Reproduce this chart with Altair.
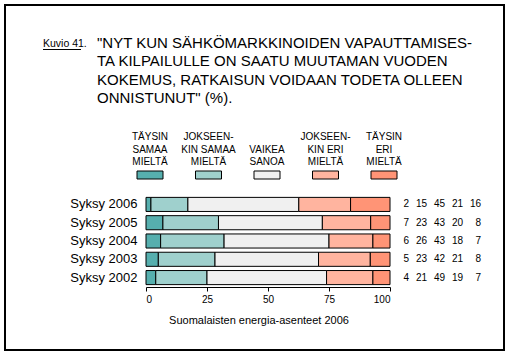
import altair as alt
import pandas as pd

years = ["Syksy 2006", "Syksy 2005", "Syksy 2004", "Syksy 2003", "Syksy 2002"]
categories = ["TÄYSIN SAMAA MIELTÄ", "JOKSEENKIN SAMAA MIELTÄ", "VAIKEA SANOA",
              "JOKSEENKIN ERI MIELTÄ", "TÄYSIN ERI MIELTÄ"]
legend_labels = ["TÄYSIN\nSAMAA\nMIELTÄ", "JOKSEEN-\nKIN SAMAA\nMIELTÄ", "\nVAIKEA\nSANOA",
                 "JOKSEEN-\nKIN ERI\nMIELTÄ", "TÄYSIN\nERI\nMIELTÄ"]
colors = ["#56AFAE", "#9FD0CD", "#F0F0F0", "#FFB49F", "#FF9476"]

taysin_samaa = [2, 7, 6, 5, 4]
jokseenkin_samaa = [15, 23, 26, 23, 21]
vaikea_sanoa = [45, 43, 43, 42, 49]
jokseenkin_eri = [21, 20, 18, 21, 19]
taysin_eri = [16, 8, 7, 8, 7]

series = [taysin_samaa, jokseenkin_samaa, vaikea_sanoa, jokseenkin_eri, taysin_eri]

title_lines = ['"NYT KUN SÄHKÖMARKKINOIDEN VAPAUTTAMISES-',
               'TA KILPAILULLE ON SAATU MUUTAMAN VUODEN',
               'KOKEMUS, RATKAISUN VOIDAAN TODETA OLLEEN',
               'ONNISTUNUT" (%).']
figure_label = "Kuvio 41."
caption = "Suomalaisten energia-asenteet 2006"
x_ticks = [0, 25, 50, 75, 100]

FONT = "Liberation Sans"

rows = []
for ci, (cat, vals) in enumerate(zip(categories, series)):
    for yi, (yr, v) in enumerate(zip(years, vals)):
        rows.append({"year": yr, "cat": cat, "idx": ci, "value": v})
df = pd.DataFrame(rows)

color_scale = alt.Scale(domain=categories, range=colors)
y_axis = alt.Axis(domain=False, ticks=False, labelFontSize=13,
                  labelColor="black", labelFont=FONT, labelPadding=9)

bars = alt.Chart(df).transform_joinaggregate(
    total="sum(value)", groupby=["year"]
).transform_calculate(
    pct="datum.value / datum.total * 100"
).mark_bar(stroke="black", strokeWidth=1).encode(
    x=alt.X("pct:Q", stack="zero", title=None,
            scale=alt.Scale(domain=[0, 100], nice=False),
            axis=alt.Axis(values=x_ticks, grid=False, domainColor="black",
                          tickColor="black", tickSize=4, labelFontSize=10,
                          labelColor="black", labelFont=FONT, labelPadding=3)),
    y=alt.Y("year:N", sort=years, title=None,
            scale=alt.Scale(paddingInner=0.23, paddingOuter=0.13),
            axis=y_axis),
    color=alt.Color("cat:N", scale=color_scale, legend=None),
    order=alt.Order("idx:Q"),
)

values_text = alt.Chart(df).mark_text(
    align="right", baseline="middle", fontSize=10, font=FONT, color="black"
).encode(
    x=alt.X("idx:O", scale=alt.Scale(type="point", range=[263, 335], padding=0), axis=None),
    y=alt.Y("year:N", sort=years, title=None, axis=y_axis),
    text=alt.Text("value:Q"),
)

leg_df = pd.DataFrame({"cat": categories, "label": legend_labels})
leg_x = alt.X("cat:N", sort=categories,
              scale=alt.Scale(type="point", domain=categories, range=[4, 238], padding=0),
              axis=None)
leg_rect = alt.Chart(leg_df).mark_bar(
    stroke="black", strokeWidth=1, width=26, height=8
).encode(
    x=leg_x, y=alt.value(-20),
    color=alt.Color("cat:N", scale=color_scale, legend=None),
)
leg_text = alt.Chart(leg_df).mark_text(
    align="center", baseline="alphabetic", lineBreak="\n", lineHeight=12.5,
    fontSize=10, font=FONT, color="black"
).encode(
    x=leg_x, y=alt.value(-55), text="label:N",
)

one = pd.DataFrame({"a": [0]})
title_df = pd.DataFrame({"t": ["\n".join(title_lines)]})
title_text = alt.Chart(title_df).mark_text(
    align="left", baseline="alphabetic", lineBreak="\n", lineHeight=18.3,
    fontSize=15, font=FONT, color="black"
).encode(x=alt.value(-49), y=alt.value(-147), text="t:N")

fig_df = pd.DataFrame({"t": [figure_label]})
fig_text = alt.Chart(fig_df).mark_text(
    align="left", baseline="alphabetic", fontSize=10.5, font=FONT, color="black"
).encode(x=alt.value(-103), y=alt.value(-148), text="t:N")
fig_rule = alt.Chart(one).mark_rule(color="black", strokeWidth=1).encode(
    x=alt.value(-103), x2=alt.value(-65), y=alt.value(-145.5))

cap_df = pd.DataFrame({"t": [caption]})
cap_text = alt.Chart(cap_df).mark_text(
    align="center", baseline="middle", fontSize=11, font=FONT, color="black"
).encode(x=alt.value(113), y=alt.value(126), text="t:N")

frame = alt.Chart(one).mark_rect(
    fill="white", fillOpacity=0, stroke="black", strokeWidth=2
).encode(x=alt.value(-141), x2=alt.value(358), y=alt.value(-190), y2=alt.value(155))

chart = alt.layer(
    frame, bars, values_text, leg_rect, leg_text, title_text, fig_text, fig_rule, cap_text
).resolve_scale(x="independent").properties(
    width=244, height=92,
    autosize=alt.AutoSizeParams(type="none"),
    padding={"left": 146, "top": 195, "right": 119, "bottom": 69},
    background="white",
).configure_view(stroke=None)

chart.save("out.html", embed_options={"renderer": "svg", "actions": False})
